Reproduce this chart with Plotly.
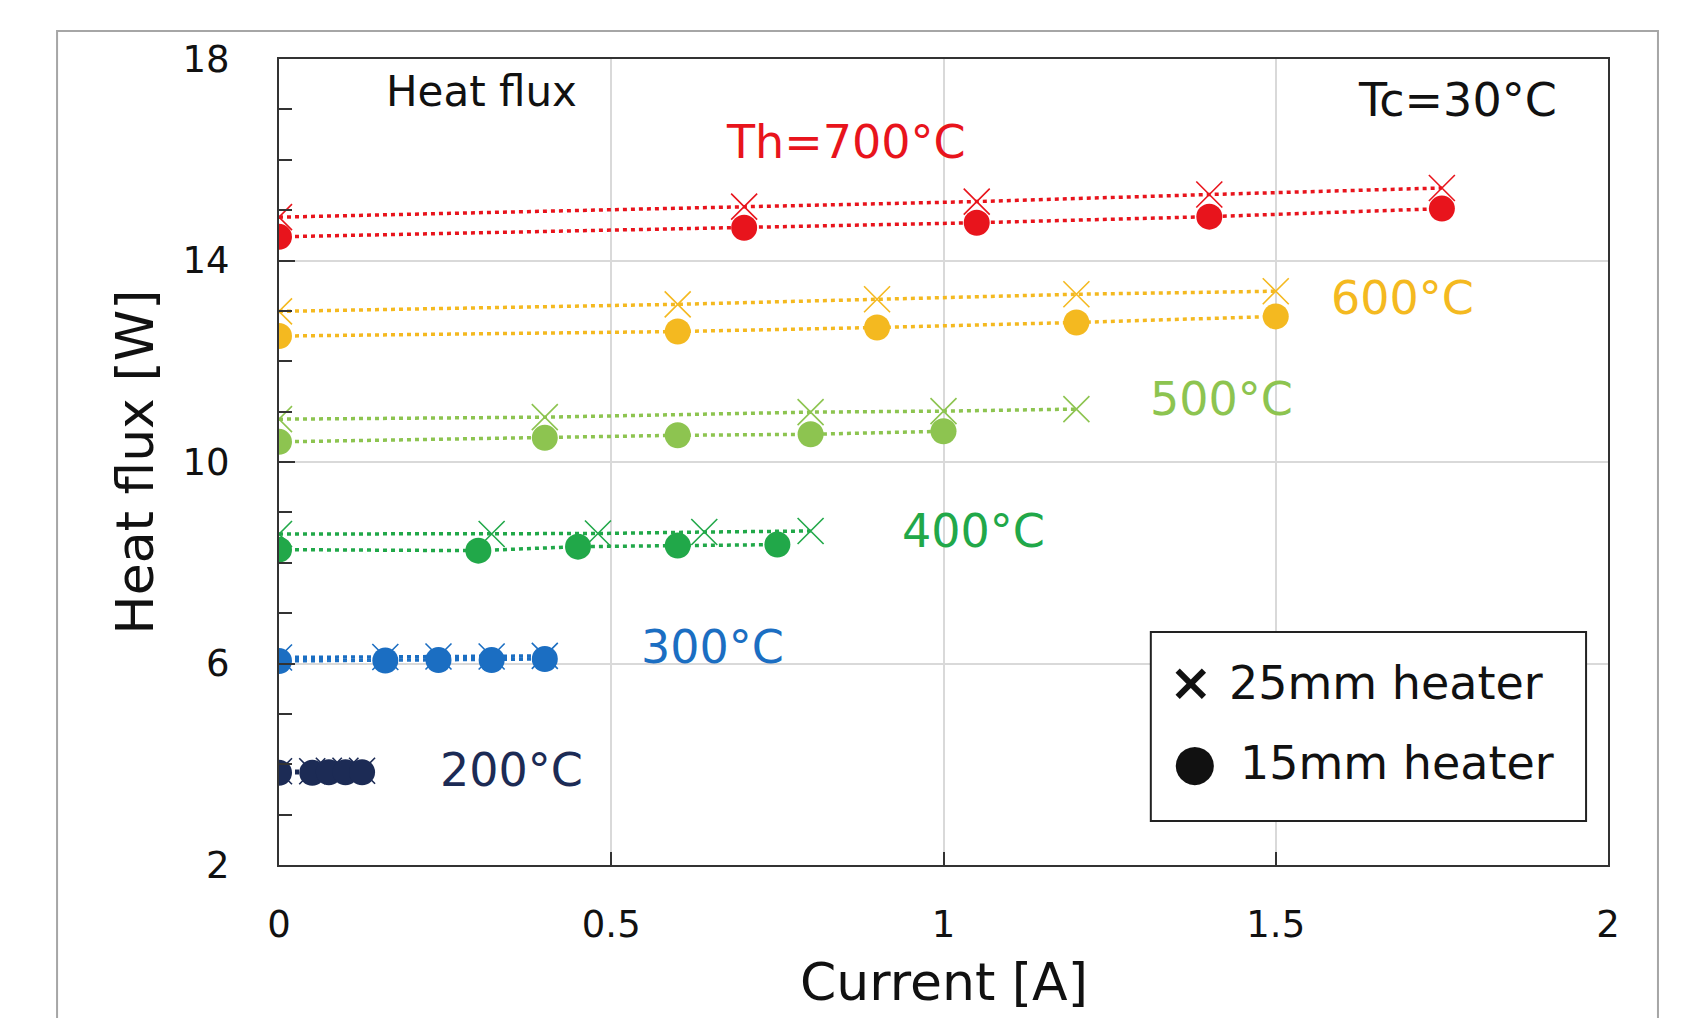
import plotly.graph_objects as go

# ---------------- data ----------------
x_700 = [0, 0.70, 1.05, 1.40, 1.75]
y25_700 = [14.86, 15.07, 15.17, 15.31, 15.44]
y15_700 = [14.47, 14.65, 14.75, 14.87, 15.03]

x_600 = [0, 0.60, 0.90, 1.20, 1.50]
y25_600 = [12.99, 13.13, 13.23, 13.33, 13.39]
y15_600 = [12.50, 12.59, 12.67, 12.77, 12.89]

x25_500 = [0, 0.40, 0.80, 1.00, 1.20]
y25_500 = [10.85, 10.89, 10.99, 11.01, 11.05]
x15_500 = [0, 0.40, 0.60, 0.80, 1.00]
y15_500 = [10.40, 10.48, 10.53, 10.55, 10.61]

x25_400 = [0, 0.32, 0.48, 0.64, 0.80]
y25_400 = [8.57, 8.57, 8.58, 8.61, 8.63]
x15_400 = [0, 0.30, 0.45, 0.60, 0.75]
y15_400 = [8.26, 8.24, 8.32, 8.34, 8.36]

x_300 = [0, 0.16, 0.24, 0.32, 0.40]
y25_300 = [6.12, 6.13, 6.14, 6.14, 6.15]
y15_300 = [6.05, 6.06, 6.07, 6.07, 6.09]

x_200 = [0, 0.05, 0.075, 0.10, 0.125]
y25_200 = [3.86, 3.86, 3.87, 3.87, 3.87]
y15_200 = [3.83, 3.83, 3.84, 3.84, 3.84]

y_ticks = [2, 6, 10, 14, 18]
x_ticks = [0, 0.5, 1, 1.5, 2]
x_ticklabels = ["0", "0.5", "1", "1.5", "2"]

series = [
    # label, color, x25, y25, x15, y15, label x, label y
    ("Th=700°C", "#E8141C", x_700, y25_700, x_700, y15_700, 0.853, 16.35),
    ("600°C", "#F4B920", x_600, y25_600, x_600, y15_600, 1.691, 13.25),
    ("500°C", "#8DC450", x25_500, y25_500, x15_500, y15_500, 1.419, 11.25),
    ("400°C", "#21A849", x25_400, y25_400, x15_400, y15_400, 1.045, 8.64),
    ("300°C", "#1B6EC2", x_300, y25_300, x_300, y15_300, 0.652, 6.32),
    ("200°C", "#1C2B55", x_200, y25_200, x_200, y15_200, 0.350, 3.88),
]

FONT = "DejaVu Sans"

fig = go.Figure()
for name, col, x25, y25, x15, y15, lx, ly in series:
    fig.add_trace(go.Scatter(
        x=x25, y=y25, mode="lines+markers", showlegend=False,
        line=dict(color=col, width=3.5, dash="4px,4px"),
        marker=dict(symbol="x-thin-open", size=26, line=dict(color=col, width=1.6)),
    ))
    fig.add_trace(go.Scatter(
        x=x15, y=y15, mode="lines+markers", showlegend=False,
        line=dict(color=col, width=3.5, dash="4px,4px"),
        marker=dict(symbol="circle", size=26, color=col),
    ))
    fig.add_annotation(x=lx, y=ly, text=name, showarrow=False,
                       font=dict(family=FONT, size=46, color=col),
                       xanchor="center", yanchor="middle")

# text annotations
fig.add_annotation(x=0.304, y=17.36, text="Heat flux", showarrow=False,
                   font=dict(family=FONT, size=42, color="#111"), xanchor="center", yanchor="middle")
fig.add_annotation(x=1.773, y=17.18, text="Tc=30°C", showarrow=False,
                   font=dict(family=FONT, size=46, color="#111"), xanchor="center", yanchor="middle")

# legend box (drawn manually)
fig.add_shape(type="rect", xref="x", yref="y", x0=1.312, x1=1.967, y0=2.874, y1=6.625,
              line=dict(color="#222", width=2), fillcolor="white", layer="above")
fig.add_annotation(x=1.426, y=5.62, text="25mm heater", showarrow=False,
                   font=dict(family=FONT, size=46, color="#111"), xanchor="left", yanchor="middle")
fig.add_annotation(x=1.443, y=4.02, text="15mm heater", showarrow=False,
                   font=dict(family=FONT, size=46, color="#111"), xanchor="left", yanchor="middle")
fig.add_annotation(x=1.372, y=5.64, text="<b>×</b>", showarrow=False,
                   font=dict(family=FONT, size=52, color="#111"), xanchor="center", yanchor="middle")
fig.add_annotation(x=1.379, y=4.04, text="●", showarrow=False,
                   font=dict(family=FONT, size=50, color="#111"), xanchor="center", yanchor="middle")

# axis titles
fig.add_annotation(xref="paper", yref="paper", x=0.5, y=-0.145, text="Current [A]", showarrow=False,
                   font=dict(family=FONT, size=52, color="#111"), xanchor="center", yanchor="middle")
fig.add_annotation(xref="paper", yref="paper", x=-0.108, y=0.5, text="Heat flux [W]", showarrow=False,
                   textangle=-90,
                   font=dict(family=FONT, size=52, color="#111"), xanchor="center", yanchor="middle")

# outer border
fig.add_shape(type="rect", xref="paper", yref="paper", x0=-0.167, x1=1.0376, y0=-0.3, y1=1.0347,
              line=dict(color="#A6A6A6", width=2), layer="below")

fig.update_xaxes(
    range=[0, 2], tickvals=x_ticks, ticktext=x_ticklabels,
    showline=True, mirror=True, linecolor="#333", linewidth=2,
    ticks="inside", ticklen=13, tickwidth=1.5, tickcolor="#333",
    showgrid=True, gridcolor="#D9D9D9", gridwidth=1.5, zeroline=False,
    tickfont=dict(family=FONT, size=37, color="#111"), ticklabelstandoff=26,
)
fig.update_yaxes(
    range=[2, 18], tickvals=y_ticks,
    showline=True, mirror=True, linecolor="#333", linewidth=2,
    ticks="inside", ticklen=16, tickwidth=1.5, tickcolor="#333",
    minor=dict(dtick=1, ticks="inside", ticklen=13, tickwidth=1.5, tickcolor="#333", showgrid=False),
    showgrid=True, gridcolor="#D9D9D9", gridwidth=1.5, zeroline=False,
    tickfont=dict(family=FONT, size=37, color="#111"), ticklabelstandoff=40,
)

fig.update_layout(
    width=1683, height=1018,
    margin=dict(l=271, r=83, t=51, b=161),
    paper_bgcolor="white", plot_bgcolor="white",
    showlegend=False, hovermode=False,
)

fig.write_html("out.html", config={"displayModeBar": False})
